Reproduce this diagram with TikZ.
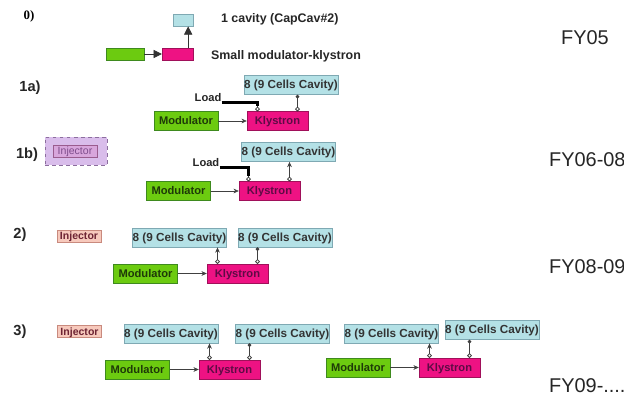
\documentclass[tikz,border=0pt]{standalone}
\usepackage{fontspec}
\setmainfont{Liberation Sans}
\newfontfamily\serifbold{Liberation Serif}
\usetikzlibrary{arrows.meta}

\definecolor{cavfill}{HTML}{B4E1E6}
\definecolor{cavline}{HTML}{7FA9B3}
\definecolor{modfill}{HTML}{6CCB10}
\definecolor{modline}{HTML}{3E8A1E}
\definecolor{modtext}{HTML}{1E3A08}
\definecolor{klyfill}{HTML}{EE1283}
\definecolor{klyline}{HTML}{A0105A}
\definecolor{klytext}{HTML}{5E0B45}
\definecolor{injfill}{HTML}{F7C9BC}
\definecolor{injline}{HTML}{C98A7E}
\definecolor{injtext}{HTML}{6E2434}
\definecolor{purpfill}{HTML}{D9BDEB}
\definecolor{purpline}{HTML}{8C6E9E}
\definecolor{pinkfill}{HTML}{D8A6DC}
\definecolor{pinkline}{HTML}{9A5C8E}
\definecolor{pinktext}{HTML}{7E4D8C}

\begin{document}
\begin{tikzpicture}[x=0.03cm, y=-0.03cm,
                cavity/.style={draw=cavline, fill=cavfill, minimum width=2.82cm, minimum height=0.58cm, inner sep=0pt,
                    text height=1.6ex, text depth=0.4ex, font=\fontsize{10}{11}\selectfont\bfseries, text=black!80},
                modulator/.style={draw=modline, fill=modfill, minimum width=1.92cm, minimum height=0.56cm, inner sep=0pt,
                    text height=1.6ex, text depth=0.4ex, font=\fontsize{9.5}{10}\selectfont\bfseries, text=modtext},
                klystron/.style={draw=klyline, fill=klyfill, minimum width=1.83cm, minimum height=0.56cm, inner sep=0pt,
                    text height=1.6ex, text depth=0.4ex, font=\fontsize{9.5}{10}\selectfont\bfseries, text=klytext},
                injector/.style={draw=injline, fill=injfill, minimum width=1.32cm, minimum height=0.36cm, inner sep=0pt,
                    text height=1.6ex, text depth=0.4ex, font=\fontsize{9}{10}\selectfont\bfseries, text=injtext},
                row/.style={font=\fontsize{12.5}{14}\selectfont\bfseries, text=black!85},
                note/.style={anchor=west, font=\fontsize{10.6}{12}\selectfont\bfseries, text=black!85},
                load/.style={inner sep=0pt, font=\fontsize{9.5}{10}\selectfont\bfseries, text=black!85},
                fy/.style={anchor=west, font=\fontsize{17}{20}\selectfont, text=black!85},
                big/.style={-{Triangle[length=7pt, width=7pt]}, black!80, line width=0.6pt},
                feed/.style={-{Stealth[length=4.5pt, width=4pt]}, black!75, line width=0.5pt},
                bar/.style={black, line width=3pt},
                tap/.style={{Circle[open, length=4pt, width=4pt]}-{Stealth[length=4.5pt, width=4pt]}, black!75, line width=0.7pt},
                tapdot/.style={{Circle[open, length=4pt, width=4pt]}-{Circle[length=3pt]}, black!75, line width=0.7pt},
                loadtap/.style={{Circle[open, length=4pt, width=4pt]}-, black!75, line width=0.7pt}]
                \useasboundingbox (0,0) rectangle (624,396);
                \fill[white] (0,0) rectangle (624,396);
                \clip (0,0) rectangle (624,396);

                \node[font=\serifbold\fontsize{11}{12}\selectfont\bfseries] (r0) at (29,16) {0)};
                \node[cavity, minimum width=0.6cm, minimum height=0.3cm] (cav0) at (183,20) {};
                \node[modulator, minimum width=1.14cm, minimum height=0.36cm] (mod0) at (125,54) {};
                \node[klystron, minimum width=0.93cm, minimum height=0.36cm] (kly0) at (177.5,54) {};
                \draw[big] (mod0) -- (kly0);
                \coordinate (t0) at ([xshift=0.32cm]kly0.north);
                \draw[big] (t0) -- (t0 |- cav0.south);
                \node[note] (capcav) at (217,19) {1 cavity (CapCav\#2)};
                \node[note] (small) at (207,56) {Small modulator-klystron};
                \node[fy] (fy05) at (557,38) {FY05};

                \node[row] (r1a) at (30,88) {1a)};
                \node[cavity] (cav1a) at (291,85) {8 (9 Cells Cavity)};
                \node[modulator] (mod1a) at (186,121) {Modulator};
                \node[klystron] (kly1a) at (277.5,121) {Klystron};
                \node[load] (load1a) at (208,98) {Load};
                \draw[feed] (mod1a) -- (kly1a);
                \coordinate (l1a) at ([xshift=-0.6cm]kly1a.north);
                \coordinate (t1a) at ([xshift=0.6cm]kly1a.north);
                \draw[bar] (load1a.south east) -| ([yshift=0.16cm]l1a);
                \draw[loadtap] (l1a) -- ([yshift=0.17cm]l1a);
                \draw[tapdot] (t1a) -- (t1a |- cav1a.south);

                \node[row] (r1b) at (27,155) {1b)};
                \node[draw=purpline, dashed, fill=purpfill, minimum width=1.86cm, minimum height=0.84cm] (box1b) at (76,151) {};
                \node[draw=pinkline, fill=pinkfill, minimum width=1.32cm, minimum height=0.36cm, inner sep=0pt,
                    text height=1.6ex, text depth=0.4ex, font=\fontsize{9}{10}\selectfont, text=pinktext] (inj1b) at (75,151) {Injector};
                \node[cavity] (cav1b) at (288.5,152) {8 (9 Cells Cavity)};
                \node[modulator] (mod1b) at (178.5,191) {Modulator};
                \node[klystron] (kly1b) at (269.5,191) {Klystron};
                \node[load] (load1b) at (206,163) {Load};
                \draw[feed] (mod1b) -- (kly1b);
                \coordinate (l1b) at ([xshift=-0.63cm]kly1b.north);
                \coordinate (t1b) at ([xshift=0.6cm]kly1b.north);
                \draw[bar] (load1b.south east) -| ([yshift=0.16cm]l1b);
                \draw[loadtap] (l1b) -- ([yshift=0.17cm]l1b);
                \draw[tap] (t1b) -- (t1b |- cav1b.south);
                \node[fy] (fy0608) at (545,160) {FY06-08};

                \node[row] (r2) at (20,235) {2)};
                \node[injector] (inj2) at (79,236) {Injector};
                \node[cavity] (cav2a) at (179.5,237.5) {8 (9 Cells Cavity)};
                \node[cavity] (cav2b) at (285,237.5) {8 (9 Cells Cavity)};
                \node[modulator] (mod2) at (145.5,273.5) {Modulator};
                \node[klystron] (kly2) at (237.5,273.5) {Klystron};
                \draw[feed] (mod2) -- (kly2);
                \coordinate (t2a) at ([xshift=-0.6cm]kly2.north);
                \coordinate (t2b) at ([xshift=0.6cm]kly2.north);
                \draw[tap] (t2a) -- (t2a |- cav2a.south);
                \draw[tapdot] (t2b) -- (t2b |- cav2b.south);
                \node[fy] (fy0809) at (545,267) {FY08-09};

                \node[row] (r3) at (20,332) {3)};
                \node[injector] (inj3) at (79.5,331.5) {Injector};
                \node[cavity] (cav3a) at (171,333.5) {8 (9 Cells Cavity)};
                \node[cavity] (cav3b) at (282.5,333.5) {8 (9 Cells Cavity)};
                \node[cavity] (cav3c) at (391.5,333.5) {8 (9 Cells Cavity)};
                \node[cavity] (cav3d) at (492,330) {8 (9 Cells Cavity)};
                \node[modulator] (mod3a) at (137.5,369.5) {Modulator};
                \node[klystron] (kly3a) at (229.5,369.5) {Klystron};
                \node[modulator] (mod3b) at (358,367.5) {Modulator};
                \node[klystron] (kly3b) at (449.5,367.5) {Klystron};
                \draw[feed] (mod3a) -- (kly3a);
                \draw[feed] (mod3b) -- (kly3b);
                \coordinate (t3a) at ([xshift=-0.6cm]kly3a.north);
                \coordinate (t3b) at ([xshift=0.6cm]kly3a.north);
                \coordinate (t3c) at ([xshift=-0.6cm]kly3b.north);
                \coordinate (t3d) at ([xshift=0.6cm]kly3b.north);
                \draw[tap] (t3a) -- (t3a |- cav3a.south);
                \draw[tapdot] (t3b) -- (t3b |- cav3b.south);
                \draw[tap] (t3c) -- (t3c |- cav3c.south);
                \draw[tapdot] (t3d) -- (t3d |- cav3d.south);
                \node[fy] (fy09) at (545,386) {FY09-....};
\end{tikzpicture}
\end{document}
